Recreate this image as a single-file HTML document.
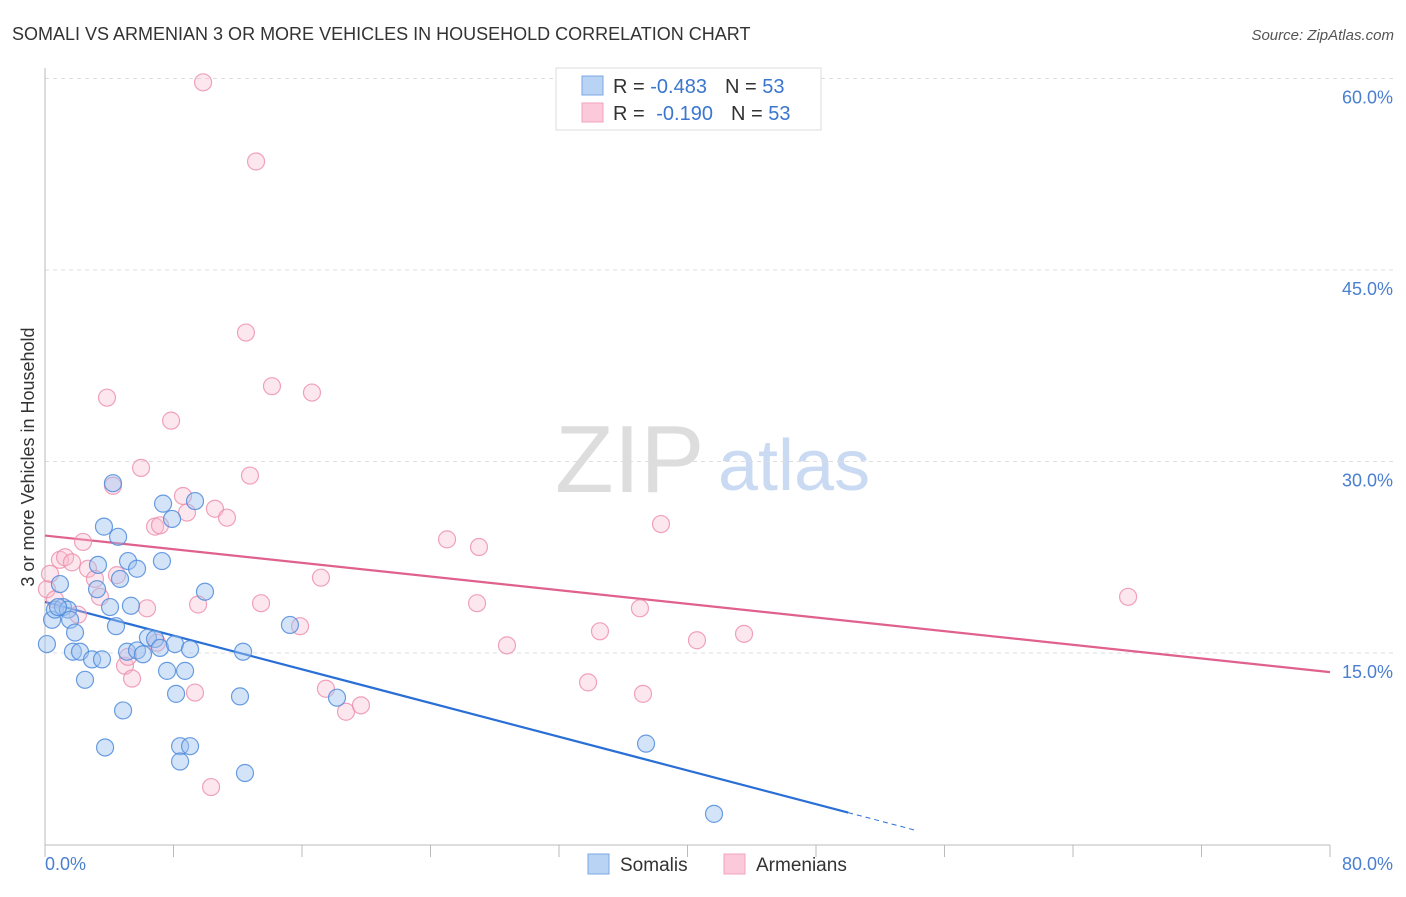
<!DOCTYPE html>
<html><head><meta charset="utf-8"><style>
body{margin:0;background:#fff;font-family:"Liberation Sans",sans-serif;}
svg text{font-family:"Liberation Sans",sans-serif;}
</style></head><body>
<svg id="chart" width="1406" height="892" xmlns="http://www.w3.org/2000/svg">
<text x="12" y="40" font-size="18" fill="#333">SOMALI VS ARMENIAN 3 OR MORE VEHICLES IN HOUSEHOLD CORRELATION CHART</text>
<text x="1394" y="40" font-size="15" fill="#555" text-anchor="end" font-style="italic">Source: ZipAtlas.com</text>
<g>
<text x="555" y="492" font-size="96" font-family="Liberation Serif,serif" fill="#ddd">ZIP</text>
<text x="718" y="490" font-size="72" fill="#c9daf2">atlas</text>
</g>
<g id="grid"></g><g id="axes"></g><g id="trends"></g><g id="pts"></g>
<g>
<rect x="556" y="68" width="265" height="62" fill="#fff" stroke="#ddd"/>
<rect x="582" y="76" width="21" height="19" fill="#b9d3f5" stroke="#7aa7e3"/>
<rect x="582" y="103" width="21" height="19" fill="#fbc9d9" stroke="#f0a3bd"/>
<text x="613" y="93" font-size="20" fill="#333">R = <tspan fill="#3a76cf">-0.483</tspan><tspan dx="18">N = </tspan><tspan fill="#3a76cf">53</tspan></text>
<text x="613" y="120" font-size="20" fill="#333">R = <tspan fill="#3a76cf" dx="6">-0.190</tspan><tspan dx="18">N = </tspan><tspan fill="#3a76cf">53</tspan></text>
</g>
<g>
<rect x="588" y="854" width="21" height="20" fill="#b9d3f5" stroke="#7aa7e3"/>
<text x="620" y="871" font-size="19" fill="#333">Somalis</text>
<rect x="724" y="854" width="21" height="20" fill="#fbc9d9" stroke="#f0a3bd"/>
<text x="756" y="871" font-size="19" fill="#333">Armenians</text>
</g>
</svg>
<script>
const yTicks=[15,30,45,60];
const yTickLabels=["15.0%","30.0%","45.0%","60.0%"];
const somaliX=[0.12,0.44,0.62,0.93,1.12,1.43,1.56,1.87,1.74,2.18,2.49,2.93,3.24,3.30,3.55,3.67,3.74,4.05,4.23,4.42,4.55,4.67,4.86,5.17,5.11,5.35,5.73,5.73,6.10,6.41,6.85,7.16,7.28,7.35,7.60,7.91,8.09,8.16,8.41,8.41,9.03,8.72,9.03,9.34,9.96,12.14,12.33,12.45,15.25,18.18,37.42,41.65,0.81];
const somaliY=[15.7,17.6,18.4,20.4,18.6,18.4,17.6,16.6,15.1,15.1,12.9,14.5,20.0,21.9,14.5,24.9,7.6,18.6,28.3,17.1,24.1,20.8,10.5,22.2,15.1,18.7,21.6,15.2,14.9,16.2,16.1,15.4,22.2,26.7,13.6,25.5,15.7,11.8,7.7,6.5,7.7,13.6,15.3,26.9,19.8,11.6,15.1,5.6,17.2,11.5,7.9,2.4,18.6];
const armenianX=[0.12,0.31,0.62,0.93,1.25,1.68,2.05,2.37,2.68,3.11,3.42,3.86,4.23,4.48,4.98,5.17,5.42,5.98,6.35,6.85,7.16,6.97,7.85,8.59,8.84,9.34,9.53,9.84,10.34,10.58,11.33,12.51,12.76,13.14,13.45,14.13,15.88,16.62,17.18,17.49,18.74,19.67,25.03,26.90,27.02,28.76,33.81,34.55,37.04,37.23,38.35,40.59,43.52,67.43];
const armenianY=[20.0,21.2,19.2,22.3,22.5,22.1,18.0,23.7,21.6,20.8,19.4,35.0,28.1,21.1,14.0,14.7,13.0,29.5,18.5,24.9,25.0,15.8,33.2,27.3,26.0,11.9,18.8,59.7,4.5,26.3,25.6,40.1,28.9,53.5,18.9,35.9,17.1,35.4,20.9,12.2,10.4,10.9,23.9,18.9,23.3,15.6,12.7,16.7,18.5,11.8,25.1,16.0,16.5,19.4];
const somaliTrend=[19.0,2.5,50,54.2];   // y at 0, y at solid end, solid end x, dashed end x
const armenianTrend=[24.2,13.5];   // y at 0, y at 80
const NS="http://www.w3.org/2000/svg";
const X=v=>45+v/80*1285, Y=v=>844.5-v/15*191.5;
function mk(t,a,p){const e=document.createElementNS(NS,t);for(const k in a)e.setAttribute(k,a[k]);p.appendChild(e);return e;}
const grid=document.getElementById('grid'),axes=document.getElementById('axes');
yTicks.forEach((t,i)=>{
 const l=mk('line',{x1:45,x2:1393,y1:Y(t),y2:Y(t),stroke:'#ddd','stroke-dasharray':'4,4'},grid);
 
 
 const tx=mk('text',{x:1393,y:Y(t)+25,'font-size':18,fill:'#4a7fd0','text-anchor':'end'},axes);
 tx.textContent=yTickLabels[i];
 
 
});
const xa=mk('line',{x1:45,x2:1330,y1:845,y2:845,stroke:'#bbb'},axes);


const ya=mk('line',{x1:45,x2:45,y1:68,y2:845,stroke:'#bbb'},axes);


for(let i=0;i<=10;i++){const t=mk('line',{x1:X(i*8),x2:X(i*8),y1:845,y2:857,stroke:'#bbb'},axes);
 
 }
const x0=mk('text',{x:45,y:870,'font-size':18,fill:'#4a7fd0'},axes);x0.textContent='0.0%';


const x1=mk('text',{x:1393,y:870,'font-size':18,fill:'#4a7fd0','text-anchor':'end'},axes);x1.textContent='80.0%';


const yt=mk('text',{x:34,y:457,'font-size':18,fill:'#333','text-anchor':'middle',transform:'rotate(-90 34 457)'},axes);
yt.textContent='3 or more Vehicles in Household';


const pts=document.getElementById('pts'),tr=document.getElementById('trends');
function dots(xs,ys,fill,stroke,name){xs.forEach((x,i)=>{const c=mk('circle',{cx:X(x),cy:Y(ys[i]),r:8.5,fill:fill,stroke:stroke,'stroke-width':1.2},pts);
 
 });}
dots(armenianX,armenianY,'rgba(248,185,205,0.35)','rgba(236,140,170,0.8)','armenian-point');
dots(somaliX,somaliY,'rgba(160,196,240,0.45)','rgba(80,140,220,0.85)','somali-point');
const slope=(somaliTrend[1]-somaliTrend[0])/somaliTrend[2];
const bl=mk('line',{x1:X(0),y1:Y(somaliTrend[0]),x2:X(somaliTrend[2]),y2:Y(somaliTrend[1]),stroke:'#2a6fd6','stroke-width':2.2},tr);


const xe=somaliTrend[3];
const bd=mk('line',{x1:X(somaliTrend[2]),y1:Y(somaliTrend[1]),x2:X(xe),y2:Y(somaliTrend[0]+slope*xe),stroke:'#2a6fd6','stroke-width':1,'stroke-dasharray':'5,4'},tr);


const pl=mk('line',{x1:X(0),y1:Y(armenianTrend[0]),x2:X(80),y2:Y(armenianTrend[1]),stroke:'#e0608e','stroke-width':2.2},tr);


</script>
</body></html>
